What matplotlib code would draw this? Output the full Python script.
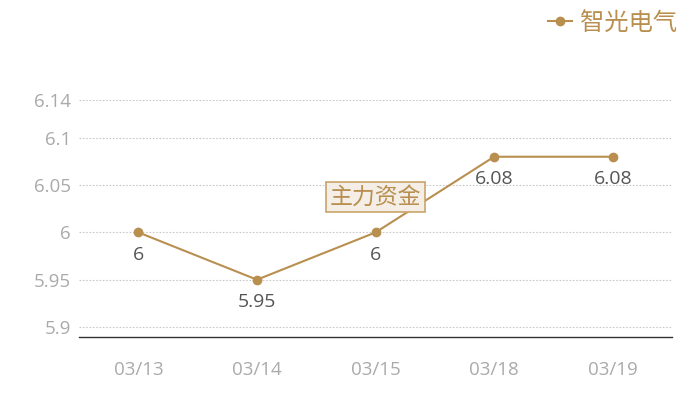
import matplotlib
matplotlib.use("Agg")
import matplotlib.pyplot as plt

plt.rcParams['font.family'] = ['Open Sans', 'Noto Sans CJK SC', 'DejaVu Sans']

dates = ["03/13", "03/14", "03/15", "03/18", "03/19"]
prices = [6.0, 5.95, 6.0, 6.08, 6.08]
price_labels = ["6", "5.95", "6", "6.08", "6.08"]
y_ticks = [5.9, 5.95, 6.0, 6.05, 6.1, 6.14]
y_tick_labels = ["5.9", "5.95", "6", "6.05", "6.1", "6.14"]
series_name = "智光电气"

gold = "#b98f50"
cjk = ['Noto Sans CJK SC', 'DejaVu Sans']

fig = plt.figure(figsize=(7, 4), dpi=100)
ax = fig.add_axes([0.113, 0.1575, 0.847, 0.5925])

x = list(range(len(dates)))
ax.plot(x, prices, "-o", color=gold, lw=1.5, ms=6, label=series_name, zorder=3)

for xi, yi, lab in zip(x, prices, price_labels):
    ax.annotate(lab, (xi, yi), xytext=(0, -16), textcoords="offset points",
                ha="center", va="center", fontsize=14, color="#555555")

ax.text(2.0, 6.0375, "主力资金", ha="center", va="center", fontsize=16.5, color=gold,
        family=cjk,
        bbox=dict(boxstyle="square,pad=0.15", fc="#f4eee6", ec="#c9a46a", lw=1.2), zorder=4)

ax.set_xlim(-0.5, 4.5)
ax.set_ylim(5.8894, 6.14)
ax.set_xticks(x)
ax.set_xticklabels(dates)
ax.set_yticks(y_ticks)
ax.set_yticklabels(y_tick_labels)
ax.tick_params(axis="both", length=0, labelsize=13.5, colors="#aaaaaa")
ax.tick_params(axis="x", pad=17)
ax.tick_params(axis="y", pad=6)
ax.grid(axis="y", linestyle=(0, (1.5, 1.5)), color="#c8c8c8", lw=0.8)
for s in ["top", "right", "left"]:
    ax.spines[s].set_visible(False)
ax.spines["bottom"].set_color("#333333")
ax.spines["bottom"].set_linewidth(1)

leg = fig.legend(loc="upper right", bbox_to_anchor=(0.998, 1.03), frameon=False,
                 prop={'family': cjk, 'size': 17.5}, handlelength=1.0, handletextpad=0.3)
for t in leg.get_texts():
    t.set_color(gold)

plt.savefig("out.png")
